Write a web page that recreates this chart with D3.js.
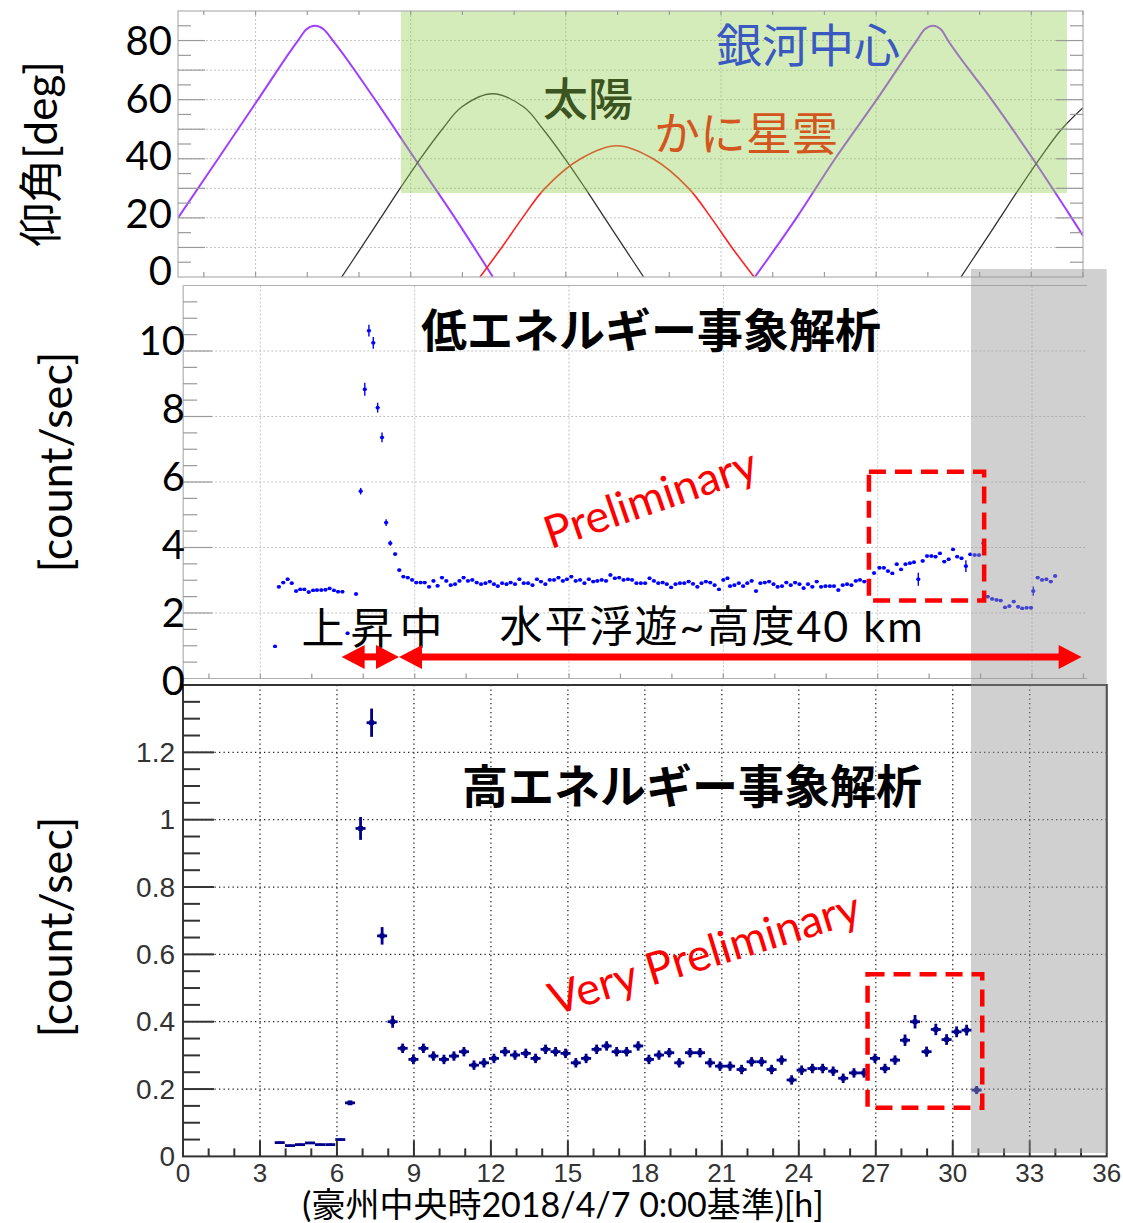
<!DOCTYPE html>
<html>
<head>
<meta charset="utf-8">
<script src="https://cdn.jsdelivr.net/npm/d3@7"></script>
<style>
  body { margin: 0; background: #fff; }
  svg { display: block; }
</style>
</head>
<body>
<svg id="chart" width="1123" height="1223"></svg>
<script>
// ---------- elevation curves [hour, degrees] ----------
const galacticCenterA = [[0,20],[1.55,40],[3.09,60],[4.64,80],[4.97,83.8],[5.30,85],[5.63,83.8],[5.99,80],[7.62,60],[9.16,40],[10.71,20],[12.18,0]];
const galacticCenterB = [[22.31,0],[23.92,20],[25.41,40],[27.02,60],[28.57,80],[28.88,83.8],[29.20,85],[29.50,83.8],[29.78,80],[31.47,60],[33.06,40],[34.56,20],[35,14]];
const sunA = [[6.33,0],[7.09,10],[7.84,20],[8.59,30],[9.37,40],[10.22,50],[10.97,57.5],[12.17,62],[13.37,57.5],[14.12,50],[14.97,40],[15.75,30],[16.50,20],[17.25,10],[18.01,0]];
const sunB = [[30.28,0],[31.04,10],[31.79,20],[32.54,30],[33.32,40],[34.17,50],[35,57.3]];
const crabNebula = [[11.68,0],[12.52,10],[13.32,20],[14.19,30],[15.57,40],[16.97,44.4],[18.37,40],[19.75,30],[20.62,20],[21.42,10],[22.28,0]];

// ---------- low-energy event rate ----------
const lowHours = [
  3.57,3.72,3.89,4.06,4.22,4.39,4.55,4.71,4.88,5.05,5.20,5.37,5.53,5.69,5.86,6.02,6.19,6.39,6.72,6.90,
  7.06,7.22,7.39,7.56,7.73,7.89,8.05,8.24,8.40,8.56,8.73,8.90,9.06,9.23,9.39,9.56,9.73,9.89,10.06,10.23,
  10.40,10.57,10.74,10.90,11.07,11.24,11.41,11.58,11.75,11.92,12.08,
  12.23,12.40,12.57,12.73,12.90,13.07,13.24,13.41,13.58,13.75,13.91,14.08,14.25,14.42,14.59,14.76,14.92,15.09,15.26,15.43,
  15.60,15.77,15.94,16.10,16.27,16.44,16.61,16.78,16.95,17.12,17.29,17.45,17.62,17.79,17.96,18.13,18.30,18.47,18.64,18.80,
  18.97,19.14,19.31,19.48,19.65,19.82,19.99,20.15,20.32,20.49,20.66,20.83,21.00,21.16,
  21.26,21.43,21.60,21.77,21.93,22.10,22.27,22.44,22.61,22.78,22.95,23.11,23.28,23.45,23.62,23.79,23.96,24.12,24.29,24.46,
  24.63,24.80,24.97,25.14,25.30,25.47,25.64,25.81,25.98,26.15,26.31,26.48,26.65,26.86,
  27.07,27.24,27.40,27.57,27.74,27.91,28.08,28.25,28.41,28.58,28.75,28.92,29.09,29.25,29.42,29.59,29.76,29.93,30.09,30.26,
  30.43,30.60,30.77,30.94,31.11,31.28,31.45,31.62,31.78,31.95,32.12,32.29,32.46,32.62,32.79,32.96,33.05,33.22,33.39,33.56,
  33.73,33.90
];
const lowRates = [
  0.98,2.80,2.93,3.03,2.91,2.67,2.72,2.72,2.64,2.69,2.70,2.70,2.71,2.75,2.69,2.65,2.65,1.38,2.58,5.72,
  8.83,10.62,10.25,8.27,7.36,4.76,4.13,3.80,3.31,3.11,3.08,3.01,2.93,2.93,2.93,2.80,2.98,2.83,3.08,2.98,
  2.85,2.88,2.98,3.08,2.98,3.01,2.93,2.88,2.91,2.96,2.88,
  2.82,2.91,2.88,2.93,2.88,3.03,2.91,2.91,2.85,3.03,2.96,2.88,3.01,3.01,3.08,2.98,3.03,3.11,2.98,3.01,
  2.91,3.03,2.96,2.98,3.01,2.98,3.16,3.06,3.08,3.01,3.03,3.01,2.91,2.91,2.91,3.06,2.98,2.91,2.93,2.88,
  2.78,2.88,2.91,2.91,2.96,2.89,2.80,2.91,2.96,2.93,2.85,2.72,3.01,3.06,
  2.82,2.85,2.91,2.82,2.91,2.98,2.67,2.91,2.93,2.96,2.88,2.80,2.82,2.93,2.85,2.93,2.88,2.76,2.88,2.80,
  2.96,2.80,2.82,2.82,2.82,2.70,2.85,2.88,2.85,2.98,3.01,2.96,2.98,3.22,
  3.38,3.38,3.28,3.21,3.49,3.33,3.49,3.52,3.55,3.03,3.59,3.74,3.74,3.72,3.82,3.57,3.64,3.94,3.72,3.67,
  3.43,3.79,3.77,3.77,4.13,2.50,2.43,2.40,2.38,2.17,2.21,2.35,2.19,2.14,2.16,2.16,2.67,3.08,3.01,3.03,
  2.96,3.13
];
// statistical errors that stand out from the usual ±0.05
const lowLargeErrors = [[6.90,0.10],[7.06,0.20],[7.22,0.18],[7.39,0.18],[7.56,0.15],[7.73,0.15],[7.89,0.10],[8.05,0.08],[28.58,0.20],[30.43,0.18],[31.11,0.10],[33.05,0.14]];
const lowDefaultError = 0.05;
const lowHalfBin = 0.083;

// ---------- high-energy event rate ----------
const highHours = [3.77,4.17,4.56,4.95,5.34,5.74,6.13,6.51,6.92,7.35,7.76,8.17,8.56,8.98,9.37,9.76,10.17,10.56,10.95,11.34,
  11.73,12.12,12.55,12.94,13.36,13.74,14.13,14.52,14.91,15.31,15.71,16.12,16.51,16.90,17.29,17.74,18.16,18.55,18.95,19.34,
  19.76,20.15,20.54,20.93,21.32,21.77,22.16,22.55,22.94,23.33,23.72,24.11,24.53,24.93,25.34,25.73,26.15,26.54,26.97,27.36,
  27.75,28.14,28.53,28.98,29.34,29.76,30.15,30.54,30.93];
const highRates = [0.041,0.032,0.035,0.040,0.035,0.035,0.050,0.159,0.974,1.288,0.655,0.400,0.321,0.288,0.321,0.298,0.288,0.298,0.311,0.271,
  0.278,0.291,0.311,0.301,0.306,0.291,0.318,0.311,0.306,0.278,0.291,0.318,0.328,0.311,0.311,0.328,0.288,0.301,0.308,0.278,
  0.308,0.308,0.278,0.268,0.268,0.258,0.281,0.281,0.258,0.286,0.227,0.256,0.261,0.261,0.253,0.232,0.248,0.248,0.291,0.261,
  0.286,0.345,0.400,0.311,0.377,0.347,0.370,0.375,0.197];
const highErrors = [0.003,0.003,0.003,0.003,0.003,0.003,0.003,0.006,0.034,0.042,0.026,0.018,0.014,0.014,0.014,0.014,0.014,0.014,0.014,0.014,
  0.014,0.014,0.014,0.014,0.014,0.014,0.014,0.014,0.014,0.014,0.014,0.014,0.014,0.014,0.014,0.014,0.014,0.014,0.014,0.014,
  0.014,0.014,0.014,0.014,0.014,0.014,0.014,0.014,0.014,0.014,0.014,0.014,0.014,0.014,0.014,0.014,0.014,0.014,0.014,0.014,
  0.014,0.017,0.020,0.015,0.017,0.016,0.016,0.016,0.012];
const highHalfBin = 0.195;

// ---------- tick labels ----------
const elevLabels = [0, 20, 40, 60, 80];
const lowRateLabels = [0, 2, 4, 6, 8, 10];
const highRateLabels = [0, 0.2, 0.4, 0.6, 0.8, 1, 1.2];
const hourLabels = [0, 3, 6, 9, 12, 15, 18, 21, 24, 27, 30, 33, 36];

// ---------- fonts & colours ----------
const JP = "'Noto Sans CJK JP', sans-serif";
const LAT = "Lato, 'Noto Sans CJK JP', sans-serif";
const ROOTF = "'Liberation Sans', Arial, sans-serif";
const RED = "#ff0000";

const svg = d3.select("#chart");
svg.append("rect").attr("width", 1123).attr("height", 1223).attr("fill", "#fff");

// ---------- scales ----------
const xTop = d3.scaleLinear().domain([0, 35]).range([178, 1083]);
const yTop = d3.scaleLinear().domain([0, 90]).range([277, 11]);
const yTopLabel = d3.scaleLinear().domain([0, 80]).range([270, 40]);

const xLow = d3.scaleLinear().domain([0, 35.15]).range([183.2, 1087.3]);
const yLow = d3.scaleLinear().domain([0, 12]).range([678.5, 285.5]);
const yLowLabel = d3.scaleLinear().domain([0, 10]).range([680, 340]);

const xHigh = d3.scaleLinear().domain([0, 36]).range([183, 1106.7]);
const yHigh = d3.scaleLinear().domain([0, 1.4]).range([1156.4, 685]);

// helper for tick/grid lines
function lines(g, data, attrs, style) {
  const sel = g.selectAll(null).data(data).join("line");
  for (const k in attrs) sel.attr(k, attrs[k]);
  for (const k in style) sel.attr(k, style[k]);
  return sel;
}

// =============== elevation panel ===============
const elevG = svg.append("g");
const [tx0, tx1] = xTop.range(), [ty0, ty1] = yTop.range();
lines(elevG, d3.range(10, 90, 10), {x1: tx0, x2: tx1, y1: d => yTop(d), y2: d => yTop(d)},
  {stroke: "#c4c4c4", "stroke-width": 1, "stroke-dasharray": "2 2"});
lines(elevG, d3.range(3, 35, 6), {x1: d => xTop(d), x2: d => xTop(d), y1: ty1, y2: ty0},
  {stroke: "#c4c4c4", "stroke-width": 1, "stroke-dasharray": "2 2"});

svg.append("clipPath").attr("id", "clipTop").append("rect")
  .attr("x", tx0).attr("y", ty1).attr("width", tx1 - tx0).attr("height", ty0 - ty1);
const vCurve = d3.line().x(d => xTop(d[0])).y(d => yTop(d[1])).curve(d3.curveMonotoneX);
const smooth = d3.line().x(d => xTop(d[0])).y(d => yTop(d[1])).curve(d3.curveCatmullRom.alpha(0.5));
const curves = elevG.append("g").attr("clip-path", "url(#clipTop)");
[[galacticCenterA, "#a040ff", 2, vCurve], [galacticCenterB, "#a040ff", 2, vCurve],
 [sunA, "#303030", 1.3, smooth], [sunB, "#303030", 1.3, smooth], [crabNebula, "#ff2020", 1.6, smooth]].forEach(([d, c, w, gen]) => {
  curves.append("path").datum(d).attr("d", gen).attr("fill", "none").attr("stroke", c).attr("stroke-width", w);
});

// observation window (translucent green band)
elevG.append("rect")
  .attr("x", xTop(8.62)).attr("y", yTop(90))
  .attr("width", xTop(34.38) - xTop(8.62)).attr("height", yTop(28.4) - yTop(90))
  .attr("fill", "rgb(146,208,80)").attr("fill-opacity", 0.4);

// frame + ticks
elevG.append("rect").attr("x", tx0).attr("y", ty1).attr("width", tx1 - tx0).attr("height", ty0 - ty1)
  .attr("fill", "none").attr("stroke", "#b0b0b0").attr("stroke-width", 1.2);
const elevTicks = d3.range(5, 90, 5);
const tl = d => (d % 10 === 0 ? 27 : 13);
lines(elevG, elevTicks, {x1: tx0, x2: d => tx0 + tl(d), y1: d => yTop(d), y2: d => yTop(d)}, {stroke: "#9a9a9a", "stroke-width": 1.2});
lines(elevG, elevTicks, {x1: tx1, x2: d => tx1 - tl(d), y1: d => yTop(d), y2: d => yTop(d)}, {stroke: "#9a9a9a", "stroke-width": 1.2});
const oddHours = d3.range(1, 36, 2);
lines(elevG, oddHours, {x1: d => xTop(d), x2: d => xTop(d), y1: ty1, y2: ty1 + 4}, {stroke: "#9a9a9a", "stroke-width": 1.2});
lines(elevG, oddHours, {x1: d => xTop(d), x2: d => xTop(d), y1: ty0, y2: ty0 - 5}, {stroke: "#9a9a9a", "stroke-width": 1.2});

elevG.selectAll(null).data(elevLabels).join("text")
  .attr("x", 172).attr("y", d => yTopLabel(d)).attr("text-anchor", "end").attr("dominant-baseline", "central")
  .attr("font-family", LAT).attr("font-size", 40).attr("fill", "#000").text(d => d);
elevG.append("text").attr("transform", "translate(40,154) rotate(-90)")
  .attr("text-anchor", "middle").attr("dominant-baseline", "central")
  .attr("font-family", LAT).attr("font-size", 44).attr("fill", "#000").text("仰角[deg]");

elevG.append("text").attr("x", 588).attr("y", 96).attr("text-anchor", "middle").attr("dominant-baseline", "central")
  .attr("font-family", JP).attr("font-size", 45).attr("font-weight", 500).attr("fill", "#3b5420").text("太陽");
elevG.append("text").attr("x", 746).attr("y", 130).attr("text-anchor", "middle").attr("dominant-baseline", "central")
  .attr("font-family", JP).attr("font-size", 46).attr("fill", "#d4561f").text("かに星雲");
elevG.append("text").attr("x", 808).attr("y", 42).attr("text-anchor", "middle").attr("dominant-baseline", "central")
  .attr("font-family", JP).attr("font-size", 46).attr("fill", "#3a58c2").text("銀河中心");

// =============== low-energy panel ===============
const lowG = svg.append("g");
const [lx0, lx1] = xLow.range(), [ly0, ly1] = yLow.range();
lines(lowG, d3.range(2, 12, 2), {x1: lx0, x2: lx1, y1: d => yLow(d), y2: d => yLow(d)},
  {stroke: "#c4c4c4", "stroke-width": 1, "stroke-dasharray": "2 2"});
lines(lowG, d3.range(3, 35, 6), {x1: d => xLow(d), x2: d => xLow(d), y1: ly1, y2: ly0},
  {stroke: "#c4c4c4", "stroke-width": 1, "stroke-dasharray": "2 2"});

const lowErrMap = new Map(lowLargeErrors);
const lowPts = lowHours.map((h, i) => ({h, v: lowRates[i], e: lowErrMap.get(h) ?? lowDefaultError}));
const lp = lowG.append("g").attr("stroke", "#0000ff").attr("stroke-width", 1.4);
lp.selectAll(null).data(lowPts).join("line")
  .attr("x1", d => xLow(d.h - lowHalfBin)).attr("x2", d => xLow(d.h + lowHalfBin))
  .attr("y1", d => yLow(d.v)).attr("y2", d => yLow(d.v));
lp.selectAll(null).data(lowPts).join("line")
  .attr("x1", d => xLow(d.h)).attr("x2", d => xLow(d.h))
  .attr("y1", d => yLow(d.v - d.e)).attr("y2", d => yLow(d.v + d.e));
lowG.append("g").selectAll(null).data(lowPts).join("rect")
  .attr("x", d => xLow(d.h) - 1.6).attr("y", d => yLow(d.v) - 1.6).attr("width", 3.2).attr("height", 3.2).attr("fill", "#0000ff");

lowG.append("line").attr("x1", lx0).attr("x2", lx1).attr("y1", ly1).attr("y2", ly1).attr("stroke", "#b0b0b0").attr("stroke-width", 1.2);
lowG.append("line").attr("x1", lx0).attr("x2", lx1).attr("y1", ly0).attr("y2", ly0).attr("stroke", "#b0b0b0").attr("stroke-width", 1.2);
lowG.append("line").attr("x1", lx0).attr("x2", lx0).attr("y1", ly1).attr("y2", ly0).attr("stroke", "#b0b0b0").attr("stroke-width", 1.2);
const lowTicks = d3.range(1, 24).map(i => i * 0.5);
lines(lowG, lowTicks, {x1: lx0, x2: d => lx0 + (d % 2 === 0 ? 29 : 14), y1: d => yLow(d), y2: d => yLow(d)}, {stroke: "#9a9a9a", "stroke-width": 1.2});
lines(lowG, oddHours, {x1: d => xLow(d), x2: d => xLow(d), y1: ly0, y2: ly0 - 5}, {stroke: "#9a9a9a", "stroke-width": 1.2});

// =============== high-energy panel ===============
const highG = svg.append("g");
const [hx0, hx1] = xHigh.range(), [hy0, hy1] = yHigh.range();
lines(highG, [0.2, 0.4, 0.6, 0.8, 1.0, 1.2], {x1: hx0, x2: hx1, y1: d => yHigh(d), y2: d => yHigh(d)},
  {stroke: "#222", "stroke-width": 1.3, "stroke-dasharray": "1.3 3.2"});
lines(highG, d3.range(3, 36, 3), {x1: d => xHigh(d), x2: d => xHigh(d), y1: hy1, y2: hy0},
  {stroke: "#222", "stroke-width": 1.3, "stroke-dasharray": "1.3 3.2"});

const highPts = highHours.map((h, i) => ({h, v: highRates[i], e: highErrors[i]}));
const hp = highG.append("g").attr("stroke", "#00008b").attr("stroke-width", 2.8);
hp.selectAll(null).data(highPts).join("line")
  .attr("x1", d => xHigh(d.h - highHalfBin)).attr("x2", d => xHigh(d.h + highHalfBin))
  .attr("y1", d => yHigh(d.v)).attr("y2", d => yHigh(d.v));
hp.selectAll(null).data(highPts).join("line")
  .attr("x1", d => xHigh(d.h)).attr("x2", d => xHigh(d.h))
  .attr("y1", d => yHigh(d.v - d.e)).attr("y2", d => yHigh(d.v + d.e));
highG.append("g").selectAll(null).data(highPts.filter(d => d.e > 0.005)).join("rect")
  .attr("x", d => xHigh(d.h) - 2.4).attr("y", d => yHigh(d.v) - 2.4).attr("width", 4.8).attr("height", 4.8).attr("fill", "#00008b");

highG.append("rect").attr("x", hx0).attr("y", hy1).attr("width", hx1 - hx0).attr("height", hy0 - hy1)
  .attr("fill", "none").attr("stroke", "#333").attr("stroke-width", 2);
const hTickIdx = d3.range(1, 28);
lines(highG, hTickIdx, {x1: hx0, x2: i => hx0 + (i % 4 === 0 ? 31 : 17), y1: i => yHigh(i * 0.05), y2: i => yHigh(i * 0.05)},
  {stroke: "#333", "stroke-width": 2});
lines(highG, d3.range(1, 36), {x1: d => xHigh(d), x2: d => xHigh(d), y1: hy0, y2: d => hy0 - (d % 3 === 0 ? 16 : 8)},
  {stroke: "#333", "stroke-width": 2});

highG.selectAll(null).data(highRateLabels).join("text")
  .attr("x", 175).attr("y", d => yHigh(d)).attr("text-anchor", "end").attr("dominant-baseline", "central")
  .attr("font-family", ROOTF).attr("font-size", 28).attr("fill", "#333").text(d => d);
highG.selectAll(null).data(hourLabels).join("text")
  .attr("x", d => xHigh(d)).attr("y", 1182).attr("text-anchor", "middle")
  .attr("font-family", ROOTF).attr("font-size", 26).attr("fill", "#333").text(d => d);

// =============== shaded interval (end of flight) ===============
svg.append("rect")
  .attr("x", xHigh(30.71)).attr("y", 269)
  .attr("width", xHigh(36) - xHigh(30.71)).attr("height", 1153 - 269)
  .attr("fill", "rgb(150,150,150)").attr("fill-opacity", 0.45);

// =============== annotations ===============
const ann = svg.append("g");
ann.selectAll(null).data(lowRateLabels).join("text")
  .attr("x", 185).attr("y", d => yLowLabel(d)).attr("text-anchor", "end").attr("dominant-baseline", "central")
  .attr("font-family", LAT).attr("font-size", 40).attr("fill", "#000").text(d => d);
[462, 927].forEach(cy => {
  ann.append("text").attr("transform", `translate(55,${cy}) rotate(-90)`)
    .attr("text-anchor", "middle").attr("dominant-baseline", "central")
    .attr("font-family", LAT).attr("font-size", 45).attr("fill", "#000").text("[count/sec]");
});

ann.append("text").attr("x", 651).attr("y", 327).attr("text-anchor", "middle").attr("dominant-baseline", "central")
  .attr("font-family", JP).attr("font-size", 46).attr("font-weight", 700).attr("fill", "#000").text("低エネルギー事象解析");
ann.append("text").attr("x", 692).attr("y", 783).attr("text-anchor", "middle").attr("dominant-baseline", "central")
  .attr("font-family", JP).attr("font-size", 46).attr("font-weight", 700).attr("fill", "#000").text("高エネルギー事象解析");

ann.append("text").attr("transform", "translate(650,497) rotate(-19)")
  .attr("text-anchor", "middle").attr("dominant-baseline", "central")
  .attr("font-family", LAT).attr("font-size", 45).attr("fill", RED).text("Preliminary");
ann.append("text").attr("transform", "translate(704,952) rotate(-17)")
  .attr("text-anchor", "middle").attr("dominant-baseline", "central")
  .attr("font-family", LAT).attr("font-size", 45).attr("fill", RED).text("Very Preliminary");

ann.append("text").attr("x", 375).attr("y", 625).attr("text-anchor", "middle").attr("dominant-baseline", "central")
  .attr("font-family", JP).attr("font-size", 43).attr("letter-spacing", 6).attr("fill", "#000").text("上昇中");
ann.append("text").attr("x", 712).attr("y", 625).attr("text-anchor", "middle").attr("dominant-baseline", "central")
  .attr("font-family", LAT).attr("font-size", 43).attr("letter-spacing", 2).attr("fill", "#000").text("水平浮遊~高度40 km");

// double-headed arrows for ascent and level flight
function doubleArrow(xa, xb, y) {
  const hl = 23, hw = 12, g = ann.append("g").attr("fill", RED);
  g.append("line").attr("x1", xa + hl - 2).attr("x2", xb - hl + 2).attr("y1", y).attr("y2", y)
    .attr("stroke", RED).attr("stroke-width", 7);
  g.append("path").attr("d", `M${xa},${y} L${xa + hl},${y - hw} L${xa + hl},${y + hw} Z`);
  g.append("path").attr("d", `M${xb},${y} L${xb - hl},${y - hw} L${xb - hl},${y + hw} Z`);
}
doubleArrow(xLow(6.16), xLow(8.39), yLow(0.66));
doubleArrow(xLow(8.39), xLow(34.93), yLow(0.66));

// dashed boxes around the late-flight rise
function dashedBox(x0, x1, y0, y1) {
  ann.append("rect").attr("x", x0).attr("y", y0).attr("width", x1 - x0).attr("height", y1 - y0)
    .attr("fill", "none").attr("stroke", RED).attr("stroke-width", 4.5).attr("stroke-dasharray", "17 9");
}
dashedBox(xLow(26.66), xLow(31.14), yLow(6.31), yLow(2.38));
dashedBox(xHigh(26.68), xHigh(31.15), yHigh(0.541), yHigh(0.1445));

ann.append("text").attr("x", 563).attr("y", 1217).attr("text-anchor", "middle")
  .attr("font-family", LAT).attr("font-size", 34).attr("fill", "#000").text("(豪州中央時2018/4/7 0:00基準)[h]");
</script>
</body>
</html>
